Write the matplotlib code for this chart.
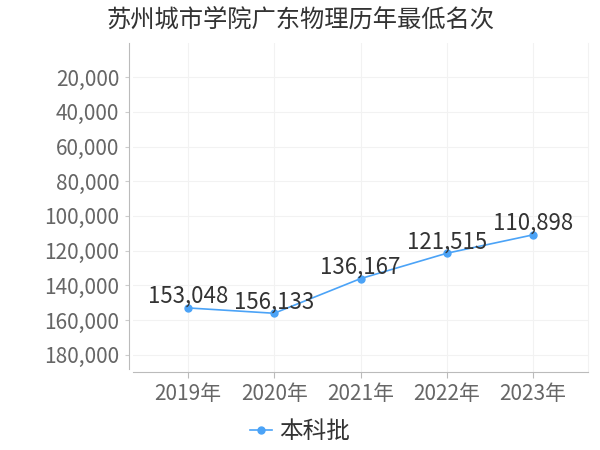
import matplotlib
matplotlib.use('Agg')
import matplotlib.pyplot as plt
from matplotlib.ticker import FuncFormatter

plt.rcParams['font.family'] = ['Noto Sans CJK SC', 'DejaVu Sans']

years = ['2019年', '2020年', '2021年', '2022年', '2023年']
ranks = [153048, 156133, 136167, 121515, 110898]
yticks = [20000, 40000, 60000, 80000, 100000, 120000, 140000, 160000, 180000]
title = '苏州城市学院广东物理历年最低名次'
series_name = '本科批'

fig = plt.figure(figsize=(6, 4.5), dpi=100)
ax = fig.add_axes([133/600, 1-372/450, 455/600, 329.5/450])

x = list(range(len(years)))
line_color = '#4ba3f7'
ax.plot(x, ranks, color=line_color, lw=1.2, marker='o', ms=5, label=series_name, zorder=3)

for xi, v in zip(x, ranks):
    ax.annotate(f'{v:,}', (xi, v), xytext=(0, 0), textcoords='offset points',
                ha='center', va='bottom', fontsize=16, color='#333333', zorder=4)

ax.set_xlim(-0.635, len(years) - 1 + 0.635)
ax.set_ylim(190000, 0)
ax.set_xticks(x)
ax.set_xticklabels(years)
ax.set_yticks(yticks)
ax.yaxis.set_major_formatter(FuncFormatter(lambda v, p: f'{int(v):,}'))

ax.tick_params(axis='both', labelsize=15, colors='#666666', width=0.8)
ax.tick_params(axis='y', length=3, pad=4, color='#cccccc')
ax.tick_params(axis='x', length=4, color='#bbbbbb', pad=4)

ax.grid(True, color='#f2f2f2', lw=0.8)
ax.set_axisbelow(True)
ax.spines['top'].set_visible(False)
ax.spines['right'].set_color('#f2f2f2')
ax.spines['left'].set_color('#bbbbbb')
ax.spines['bottom'].set_color('#bbbbbb')
ax.spines['left'].set_position(('outward', 3))
ax.spines['left'].set_bounds(0, 188000)

fig.text(0.5, 1-20/450, title, ha='center', va='center', fontsize=17.5, color='#333333')

leg = fig.legend(loc='center', bbox_to_anchor=(0.5, 1-432/450), frameon=False,
                 fontsize=17, handlelength=0.9, handletextpad=0.3, labelcolor='#333333')

fig.savefig('out.png', dpi=100)
